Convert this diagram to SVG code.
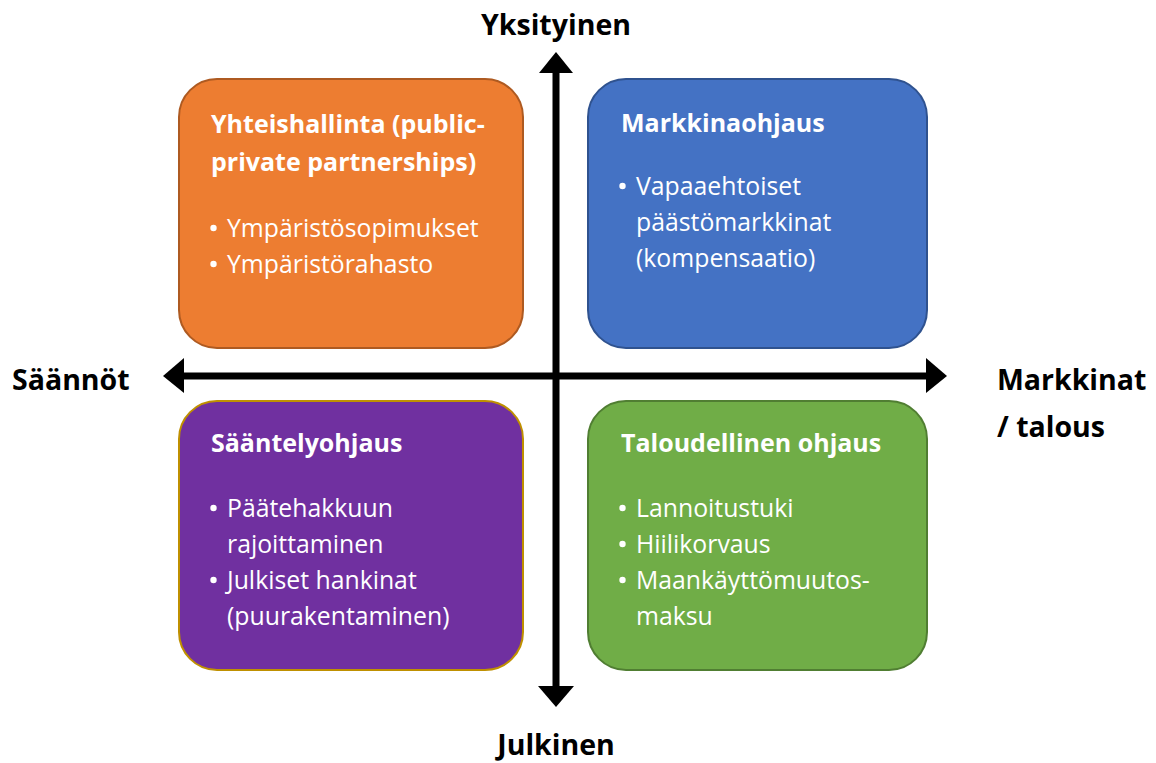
<svg xmlns="http://www.w3.org/2000/svg" width="1156" height="763" viewBox="0 0 1156 763">
<style>
.box{stroke-width:2}
.t{font-family:"Open Sans","Noto Sans","Liberation Sans",sans-serif;fill:#fff}
.h{font-weight:700;font-size:25px}
.b{font-size:24.8px}
.dot{fill:#fff}
.ax{font-family:"Open Sans","Noto Sans","Liberation Sans",sans-serif;font-weight:700;font-size:28.5px;fill:#000}
</style>
<rect width="1156" height="763" fill="#fff"/>
<g id="connectors">
<line x1="556" y1="70" x2="556" y2="688" stroke="#000" stroke-width="7"/>
<polygon points="556,52 539,73 573,73" fill="#000"/>
<polygon points="556,707 538,686 574,686" fill="#000"/>
<line x1="181" y1="376" x2="929" y2="376" stroke="#000" stroke-width="7"/>
<polygon points="163,376 184,358 184,393" fill="#000"/>
<polygon points="947,376 926,358 926,393" fill="#000"/>
</g>
<g id="node-orange">
<rect class="box" x="179" y="79" width="344" height="269" rx="38" fill="#ED7D31" stroke="#AE5A21"/>
<text class="t h" x="211" y="133">Yhteishallinta (public-</text>
<text class="t h" x="211" y="171">private partnerships)</text>
<circle class="dot" cx="213.5" cy="228" r="3.2"/><text class="t b" x="227" y="237">Ympäristösopimukset</text>
<circle class="dot" cx="213.5" cy="264" r="3.2"/><text class="t b" x="227" y="273">Ympäristörahasto</text>
</g>
<g id="node-blue">
<rect class="box" x="588" y="79" width="339" height="269" rx="38" fill="#4472C4" stroke="#2F528F"/>
<text class="t h" x="621" y="132">Markkinaohjaus</text>
<circle class="dot" cx="622.5" cy="186" r="3.2"/><text class="t b" x="636" y="195">Vapaaehtoiset</text>
<text class="t b" x="636" y="231">päästömarkkinat</text>
<text class="t b" x="636" y="267">(kompensaatio)</text>
</g>
<g id="node-purple">
<rect class="box" x="179" y="401" width="344" height="269" rx="38" fill="#7030A0" stroke="#BF9000"/>
<text class="t h" x="211" y="452">Sääntelyohjaus</text>
<circle class="dot" cx="213.5" cy="508" r="3.2"/><text class="t b" x="227" y="517">Päätehakkuun</text>
<text class="t b" x="227" y="553">rajoittaminen</text>
<circle class="dot" cx="213.5" cy="580" r="3.2"/><text class="t b" x="227" y="589">Julkiset hankinat</text>
<text class="t b" x="227" y="625">(puurakentaminen)</text>
</g>
<g id="node-green">
<rect class="box" x="588" y="401" width="339" height="269" rx="38" fill="#70AD47" stroke="#507E32"/>
<text class="t h" x="621" y="452">Taloudellinen ohjaus</text>
<circle class="dot" cx="622.5" cy="508" r="3.2"/><text class="t b" x="636" y="517">Lannoitustuki</text>
<circle class="dot" cx="622.5" cy="544" r="3.2"/><text class="t b" x="636" y="553">Hiilikorvaus</text>
<circle class="dot" cx="622.5" cy="580" r="3.2"/><text class="t b" x="636" y="589">Maankäyttömuutos-</text>
<text class="t b" x="636" y="625">maksu</text>
</g>
<g id="axis-labels">
<text class="ax" x="556" y="35" text-anchor="middle">Yksityinen</text>
<text class="ax" x="12" y="390">Säännöt</text>
<text class="ax" x="997" y="390">Markkinat</text>
<text class="ax" x="997" y="437">/ talous</text>
<text class="ax" x="556" y="755" text-anchor="middle">Julkinen</text>
</g>
</svg>
